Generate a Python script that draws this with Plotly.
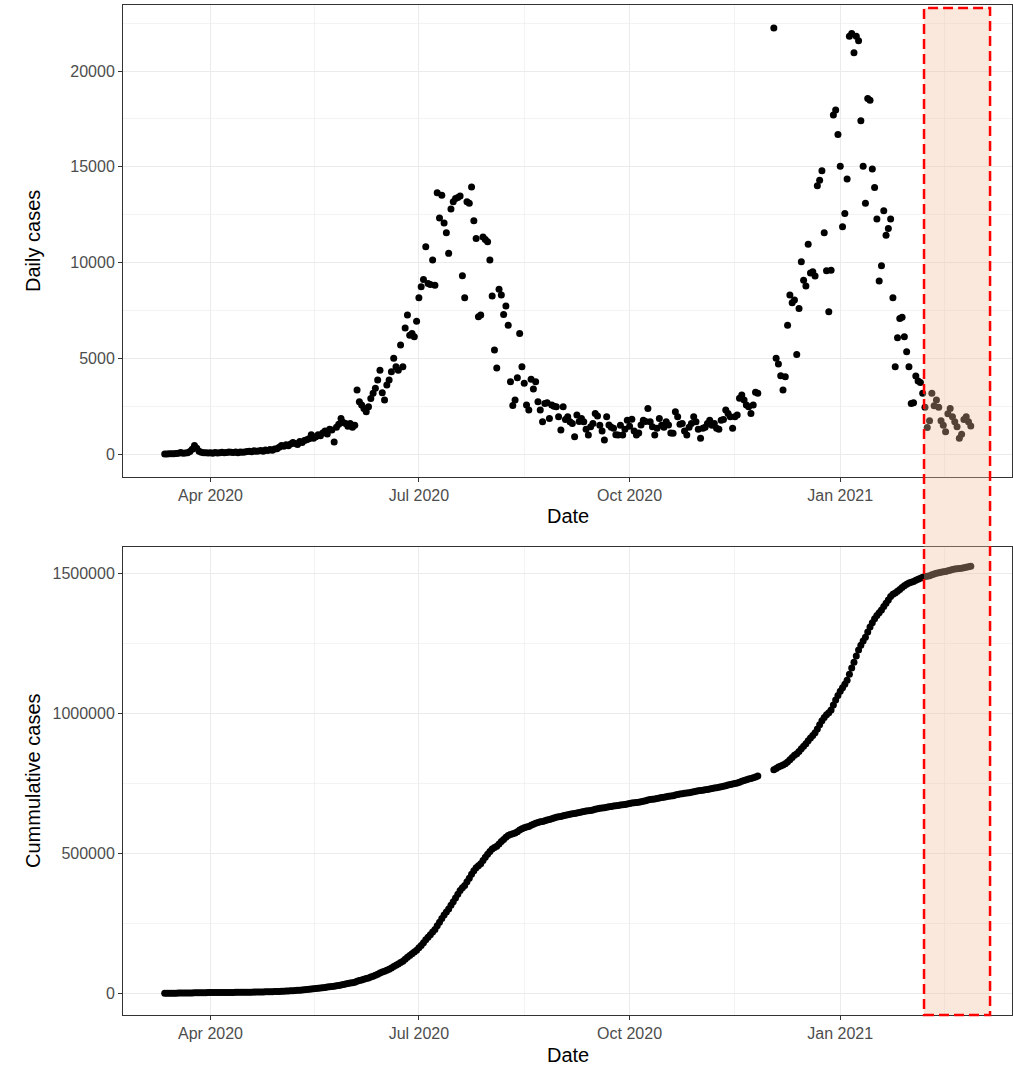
import pandas as pd
import plotly.graph_objects as go

# ---------------- data ----------------
first_date = "2020-03-12"          # first reported day (before the gap)
resume_date = "2020-12-03"         # first day after the reporting gap

daily_before_gap = [
    # Mar 12 - Mar 31
    7, 3, 14, 13, 11, 31, 34, 86, 38, 56, 66, 128, 250, 450, 300, 150, 90, 70, 60, 50,
    # April
    60, 40, 80, 50, 70, 90, 60, 80, 100, 90, 80, 100, 70, 110, 90, 100, 130, 150, 120, 170,
    140, 160, 190, 150, 210, 180, 230, 200, 260, 280,
    # May
    350, 450, 400, 480, 430, 520, 600, 550, 500, 650, 600, 700, 750, 800, 1000, 820, 900,
    1000, 950, 1100, 1200, 1050, 1300, 1250, 630, 1400, 1550, 1860, 1650, 1600, 1450,
    # June
    1600, 1400, 1500, 3340, 2730, 2560, 2380, 2210, 2470, 2900, 3170, 3430, 3860, 4380,
    3200, 2820, 3600, 3860, 4300, 5000, 4560, 4380, 5690, 4560, 6580, 7260, 6200, 6300,
    6120, 6940,
    # July
    8160, 8730, 9120, 10820, 8910, 8850, 10130, 8820, 13640, 12330, 13520, 12070, 11550,
    10480, 12790, 13170, 13350, 13400, 13470, 9310, 8160, 13170, 13090, 13950, 12180,
    11260, 7170, 7260, 11340, 11200, 11080,
    # August
    10130, 8250, 5430, 4490, 8600, 8300, 7290, 7730, 6730, 3770, 2540, 2820, 3980, 6300,
    4560, 3690, 2560, 2300, 3900, 3390, 3770, 2730, 2300, 1690, 2640, 2680, 1860, 2560,
    2500, 2470, 1950,
    # September
    1250, 2470, 1800, 1950, 1690, 1600, 900, 2040, 1700, 1860, 1690, 1300, 990, 1430, 1600,
    2120, 1980, 1500, 1200, 730, 1950, 1510, 1400, 1340, 1000, 990, 1500, 990, 1300, 1770,
    # October
    1450, 1810, 1200, 990, 1100, 1510, 1770, 1700, 2380, 1690, 1430, 990, 1350, 1860, 1500,
    1400, 1690, 1510, 1100, 1080, 2210, 1950, 1550, 1600, 1200, 990, 1400, 1600, 1950,
    1690, 1300,
    # November 1 - 26
    820, 1340, 1400, 1600, 1770, 1500, 1600, 1340, 1300, 1770, 1800, 2300, 2120, 1950,
    1340, 1950, 2040, 2910, 3080, 2820, 2560, 2470, 2120, 2560, 3220, 3170,
]

daily_after_gap = [
    # Dec 3 - Dec 31
    22250, 5000, 4700, 4090, 3340, 4040, 6730, 8300, 7900, 8040,
    5200, 7600, 10040, 9080, 8770, 10960, 9460, 9520, 9300, 14010,
    14300, 14790, 11550, 9570, 7430, 9600, 17700, 17960, 16690,
    # January 2021
    15030, 11870, 12560, 14360, 21820, 21960, 20950, 21820, 21580, 17400, 15030,
    13090, 18570, 18480, 14880, 13920, 12270, 9030, 9830, 12700, 11430,
    11780, 12270, 8160, 4560, 6070, 7080, 7140, 6120, 5340, 4560,
    # February 2021
    2640, 2680, 4070, 3810, 3740, 3170, 2440, 1390, 1740, 3170,
    2520, 2820, 2440, 1740, 1500, 1160, 2100, 2380, 1950, 1690,
    1430, 820, 1030, 1800, 1950, 1690, 1460,
]

tick_dates = ["2020-04-01", "2020-07-01", "2020-10-01", "2021-01-01"]
tick_labels = ["Apr 2020", "Jul 2020", "Oct 2020", "Jan 2021"]
minor_dates = ["2020-05-16 12:00", "2020-08-16", "2020-11-16", "2021-02-15 12:00"]

highlight_start = "2021-02-06 14:00"
highlight_end = "2021-03-07 10:00"

# ---------------- build series ----------------
dates = list(pd.date_range(first_date, periods=len(daily_before_gap), freq="D")) + \
        list(pd.date_range(resume_date, periods=len(daily_after_gap), freq="D"))
daily = daily_before_gap + daily_after_gap
cumulative = pd.Series(daily).cumsum().tolist()

# ---------------- figure ----------------
W, H = 1013, 1067
ml, mr, mt, mb = 123, 1, 5, 52
ph = H - mt - mb
pw = W - ml - mr

def py(px):  # pixel y -> paper
    return (H - mb - px) / ph

def pxx(px):  # pixel x -> paper
    return (px - ml) / pw

fig = go.Figure()
marker = dict(color="black", size=7, line=dict(width=0))
fig.add_trace(go.Scatter(x=dates, y=daily, mode="markers", marker=marker,
                         xaxis="x", yaxis="y", showlegend=False, hoverinfo="skip"))
fig.add_trace(go.Scatter(x=dates, y=cumulative, mode="markers", marker=marker,
                         xaxis="x2", yaxis="y2", showlegend=False, hoverinfo="skip"))

FONT = "Liberation Sans, Arial, sans-serif"
grid = "#EBEBEB"
border = "#333333"
tickfont = dict(family=FONT, size=16, color="#4D4D4D")

xcommon = dict(
    type="date",
    range=["2020-02-22 19:00", "2021-03-17 00:00"],
    tickmode="array", tickvals=tick_dates, ticktext=tick_labels,
    showgrid=True, gridcolor=grid, gridwidth=1,
    minor=dict(tickmode="array", tickvals=minor_dates, showgrid=True,
               gridcolor=grid, gridwidth=0.6, ticks=""),
    ticks="outside", ticklen=4, tickcolor=border, tickwidth=1,
    showline=True, linecolor=border, linewidth=1, mirror=True,
    zeroline=False, tickfont=tickfont,
)
ycommon = dict(
    showgrid=True, gridcolor=grid, gridwidth=1,
    ticks="outside", ticklen=4, tickcolor=border, tickwidth=1,
    showline=True, linecolor=border, linewidth=1, mirror=True,
    zeroline=False, tickfont=tickfont, tickformat="d",
)

fig.update_layout(
    width=W, height=H,
    margin=dict(l=ml, r=mr, t=mt, b=mb, autoexpand=False),
    paper_bgcolor="white", plot_bgcolor="white",
    font=dict(family=FONT, color="black"),
    hovermode=False,
    xaxis=dict(xcommon, anchor="y", domain=[0, 1]),
    xaxis2=dict(xcommon, anchor="y2", domain=[0, 1]),
    yaxis=dict(ycommon, anchor="x", domain=[py(477), 1.0], range=[-1200, 23450],
               tickvals=[0, 5000, 10000, 15000, 20000],
               minor=dict(dtick=2500, tick0=0, showgrid=True, gridcolor=grid,
                          gridwidth=0.6, ticks="")),
    yaxis2=dict(ycommon, anchor="x2", domain=[0, py(547)], range=[-78000, 1593000],
                tickvals=[0, 500000, 1000000, 1500000],
                minor=dict(dtick=250000, tick0=0, showgrid=True, gridcolor=grid,
                           gridwidth=0.6, ticks="")),
    shapes=[dict(type="rect", xref="x", yref="paper",
                 x0=highlight_start, x1=highlight_end,
                 y0=py(1015), y1=py(8),
                 fillcolor="rgba(241,189,155,0.35)",
                 line=dict(color="#FF0000", width=2.5, dash="10px,5px"),
                 layer="above")],
    annotations=[
        dict(text="Daily cases", xref="paper", yref="paper", x=pxx(33), y=py(241),
             textangle=-90, showarrow=False, font=dict(family=FONT, size=20, color="black"),
             xanchor="center", yanchor="middle"),
        dict(text="Cummulative cases", xref="paper", yref="paper", x=pxx(33), y=py(781),
             textangle=-90, showarrow=False, font=dict(family=FONT, size=20, color="black"),
             xanchor="center", yanchor="middle"),
        dict(text="Date", xref="paper", yref="paper", x=0.5, y=py(516),
             showarrow=False, font=dict(family=FONT, size=20, color="black"),
             xanchor="center", yanchor="middle"),
        dict(text="Date", xref="paper", yref="paper", x=0.5, y=py(1055),
             showarrow=False, font=dict(family=FONT, size=20, color="black"),
             xanchor="center", yanchor="middle"),
    ],
)

fig.write_html(
    "out.html",
    config={"displayModeBar": False, "staticPlot": True},
    post_script="document.body.style.margin='0px';document.body.style.overflow='hidden';",
)
